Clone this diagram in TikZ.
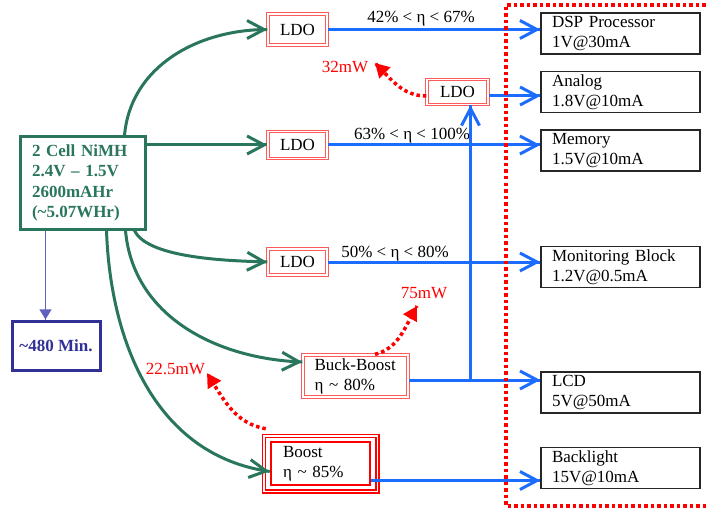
\documentclass[tikz,border=0pt]{standalone}
\usepackage{fontspec}
\setmainfont{Liberation Serif}
\usetikzlibrary{arrows.meta,decorations.markings}
\definecolor{cellgreen}{RGB}{42,118,92}
\definecolor{railblue}{RGB}{28,108,255}
\definecolor{timenavy}{RGB}{48,48,150}
\definecolor{timearrow}{RGB}{96,96,190}

\begin{document}
\begin{tikzpicture}[x=1pt, y=1pt, font=\fontsize{17}{20}\selectfont,
  ldo/.style={draw=red!65, double, double distance=1.2pt, line width=1.2pt, fill=white, inner sep=0pt},
  load/.style={draw=black!85, line width=1.3pt, minimum width=159pt, minimum height=41pt, text width=137pt, inner xsep=11pt, inner ysep=0pt, align=left},
  feed/.style={draw=cellgreen, line width=3pt, decoration={markings,mark=at position 0.999 with {\arrow{Straight Barb[length=17pt,width=18pt]}}}, postaction={decorate}},
  rail/.style={draw=railblue, line width=3pt, decoration={markings,mark=at position 0.999 with {\arrow{Straight Barb[length=17pt,width=18pt]}}}, postaction={decorate}},
  loss/.style={draw=red, line width=3.5pt, dash pattern=on 3.5pt off 3pt, decoration={markings,mark=at position 0.999 with {\arrow{Triangle[length=14pt,width=15pt]}}}, postaction={decorate}},
  drain/.style={draw=timearrow, line width=1.2pt, decoration={markings,mark=at position 0.999 with {\arrow{Triangle[length=10pt,width=12pt]}}}, postaction={decorate}},
  frame/.style={draw=red, line width=3.5pt, dash pattern=on 3.5pt off 3pt}]
\useasboundingbox (0,0) rectangle (707,-508);

% battery and run time
\node (cell) [draw=cellgreen, line width=3pt, text=cellgreen, font=\bfseries\fontsize{17}{20.5}\selectfont, minimum width=125pt, minimum height=92pt, text width=101pt, inner xsep=12pt, inner ysep=0pt, align=left] at (82.5,-183) {2 Cell NiMH\\2.4V -- 1.5V\\2600mAHr\\(\textasciitilde 5.07WHr)};
\node (mins) [draw=timenavy, line width=3pt, text=timenavy, font=\bfseries\fontsize{17}{20}\selectfont, minimum width=88pt, minimum height=49pt] at (56,-345.5) {\textasciitilde 480 Min.};

% regulators
\node (ldoA) [ldo, minimum width=59pt, minimum height=31pt] at (297.5,-29.5) {LDO};
\node (ldoB) [ldo, minimum width=61pt, minimum height=25pt] at (457.5,-92) {LDO};
\node (ldoC) [ldo, minimum width=59pt, minimum height=27pt] at (297.5,-145) {LDO};
\node (ldoD) [ldo, minimum width=59pt, minimum height=26pt] at (297.5,-262) {LDO};
\node (buck) [ldo, double distance=1.5pt, minimum width=105pt, minimum height=42pt, text width=82pt, inner xsep=11.5pt, align=left] at (355.5,-376) {Buck-Boost\\η \textasciitilde{} 80\%};
\node (boost) [draw=red, line width=2.5pt, fill=white, minimum width=99pt, minimum height=43pt, text width=75pt, inner xsep=12pt, align=left] at (320.5,-463.5) {Boost\\η \textasciitilde{} 85\%};
\draw[red, double, line width=1.5pt, double distance=1.5pt] ([shift={(-6pt,5pt)}]boost.north west) rectangle ([shift={(6pt,-5pt)}]boost.south east);

% loads
\node (dsp) [load] at (620.5,-33.5) {DSP Processor\\1V@30mA};
\node (analog) [load] at (620.5,-92) {Analog\\1.8V@10mA};
\node (memory) [load] at (620.5,-150.5) {Memory\\1.5V@10mA};
\node (monitor) [load] at (620.5,-267) {Monitoring Block\\1.2V@0.5mA};
\node (lcd) [load] at (620.5,-392.5) {LCD\\5V@50mA};
\node (backlight) [load] at (620.5,-468) {Backlight\\15V@10mA};

% efficiency and loss labels
\node (etaA) [anchor=base] at (421,-23) {42\% < η < 67\%};
\node (etaC) [anchor=base] at (412,-140) {63\% < η < 100\%};
\node (etaD) [anchor=base] at (395,-257) {50\% < η < 80\%};
\node (lossB) [text=red, anchor=base] at (345,-73) {32mW};
\node (lossBuck) [text=red, anchor=base] at (424,-298) {75mW};
\node (lossBoost) [text=red, anchor=base] at (175.5,-374) {22.5mW};

% battery feeds
\draw[feed] ([xshift=106pt]cell.north west) to[out=85,in=180] (ldoA.west);
\draw[feed] (cell.east |- ldoC.west) -- (ldoC.west);
\draw[feed] ([xshift=116pt]cell.south west) to[out=-65,in=178,looseness=0.6] (ldoD.west);
\draw[feed] ([xshift=107pt]cell.south west) to[out=-85,in=178] ([yshift=14pt]buck.west);
\draw[feed] ([xshift=88pt]cell.south west) to[out=-88,in=172] ([yshift=-8pt]boost.west);
\coordinate (drop) at ([xshift=27pt]cell.south west);
\draw[drain] (drop) -- (drop |- mins.north);

% rails to loads
\coordinate (ldoBout) at ([yshift=-4pt]ldoB.east);
\coordinate (buckout) at ([yshift=-4pt]buck.east);
\coordinate (boostout) at ([yshift=-17pt]boost.east);
\coordinate (tap) at (470.5,-380);
\draw[rail] (ldoA.east) -- (ldoA.east -| dsp.west);
\draw[rail] (ldoBout) -- (ldoBout -| analog.west);
\draw[rail] (ldoC.east) -- (ldoC.east -| memory.west);
\draw[rail] (ldoD.east) -- (ldoD.east -| monitor.west);
\draw[rail] (buckout) -- (buckout -| lcd.west);
\draw[rail] (boostout) -- (boostout -| backlight.west);
\draw[rail] (tap) -- (tap |- ldoB.south);

% losses
\coordinate (tipB) at (375,-63);
\coordinate (tipBuck) at (417,-306);
\coordinate (tipBoost) at (207,-373);
\draw[loss] ([yshift=-4pt]ldoB.west) to[out=180,in=-45] (tipB);
\draw[loss] ([xshift=19.5pt]buck.north) to[out=15,in=-120] (tipBuck);
\draw[loss] ([shift={(-4pt,12pt)}]boost.north west) to[out=170,in=-58] (tipBoost);

% load side frame
\draw[frame] (712,-5) -- (506,-5) -- (506,-506) -- (712,-506);
\end{tikzpicture}
\end{document}
